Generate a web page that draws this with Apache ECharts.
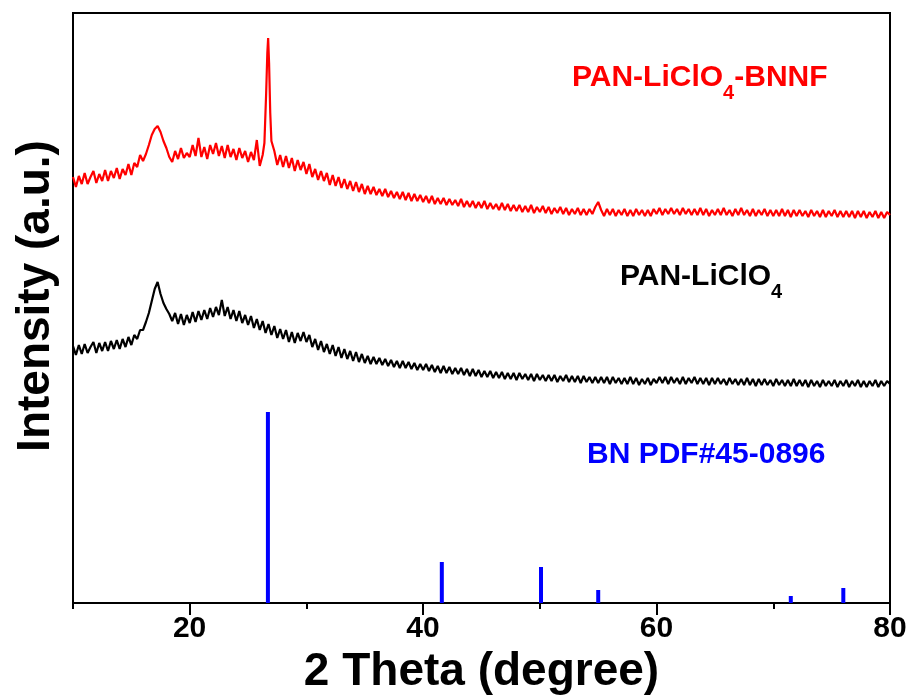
<!DOCTYPE html>
<html>
<head>
<meta charset="utf-8">
<script src="https://cdn.jsdelivr.net/npm/echarts@6/dist/echarts.min.js"></script>
<style>
html,body{margin:0;padding:0;background:#fff;}
#chart{width:911px;height:700px;}
</style>
</head>
<body>
<div id="chart"></div>
<script>
// 2θ (degree) vs intensity (a.u.)
const redBNNF = [
[10,426],[10.25,416],[10.5,427],[10.75,419],[11,430],[11.25,419],[11.5,426],[11.75,432],[12,420],[12.25,429],[12.5,422],[12.75,433],[13,422],[13.25,432],[13.5,425],[13.75,435],[14,424],[14.25,434],[14.5,428],[14.75,439],[15,428],[15.25,440],[15.5,436],[15.75,448],[16,442],[16.25,449],[16.5,458],[16.75,468],[17,474],[17.25,477],[17.5,471],[17.75,462],[18,455],[18.25,446],[18.5,441],[18.75,452],[19,444],[19.25,455],[19.5,445],[19.75,450],
[20,446],[20.25,458],[20.5,447],[20.75,465],[21,446],[21.25,456],[21.5,444],[21.75,458],[22,449],[22.25,460],[22.5,447],[22.75,457],[23,445],[23.25,458],[23.5,446],[23.75,454],[24,443],[24.25,455],[24.5,445],[24.75,452],[25,441],[25.25,451],[25.5,443],[25.75,463],[26,437],[26.25,448],[26.4,460],[26.55,510],[26.65,550],[26.72,565],[26.8,540],[26.9,490],[27,462],[27.25,452],[27.5,438],[27.75,448],[28,436],[28.25,447],[28.5,435],[28.75,445],[29,432],[29.25,443],[29.5,433],[29.75,441],
[30,429],[30.25,439],[30.5,426],[30.75,434],[31,423],[31.25,432],[31.5,422],[31.75,430],[32,418],[32.25,428],[32.5,417],[32.75,426],[33,415],[33.25,424],[33.5,414],[33.75,422],[34,412],[34.25,421],[34.5,411],[34.75,419],[35,409],[35.25,417],[35.5,409],[35.75,416],[36,408],[36.25,414],[36.5,407],[36.75,414],[37,406],[37.25,412],[37.5,405],[37.75,411],[38,404],[38.25,411],[38.5,403],[38.75,410],[39,402],[39.25,409],[39.5,402],[39.75,408],
[40,401],[40.25,407],[40.5,400],[40.75,407],[41,399],[41.25,405],[41.5,399],[41.75,405],[42,398],[42.25,404],[42.5,398],[42.75,403],[43,397],[43.25,404],[43.5,396],[43.75,402],[44,396],[44.25,402],[44.5,395],[44.75,401],[45,395],[45.25,402],[45.5,394],[45.75,400],[46,394],[46.25,399],[46.5,393],[46.75,400],[47,393],[47.25,399],[47.5,392],[47.75,398],[48,392],[48.25,398],[48.5,391],[48.75,397],[49,391],[49.25,398],[49.5,390],[49.75,396],
[50,391],[50.25,397],[50.5,390],[50.75,396],[51,389],[51.25,395],[51.5,390],[51.75,396],[52,389],[52.25,395],[52.5,388],[52.75,394],[53,389],[53.25,395],[53.5,388],[53.75,394],[54,388],[54.25,394],[54.5,389],[54.75,396],[55,401],[55.25,393],[55.5,387],[55.75,394],[56,388],[56.25,394],[56.5,387],[56.75,393],[57,388],[57.25,394],[57.5,387],[57.75,393],[58,387],[58.25,394],[58.5,388],[58.75,393],[59,387],[59.25,393],[59.5,387],[59.75,394],
[60,389],[60.25,395],[60.5,388],[60.75,394],[61,389],[61.25,395],[61.5,389],[61.75,394],[62,388],[62.25,395],[62.5,389],[62.75,394],[63,388],[63.25,394],[63.5,388],[63.75,395],[64,388],[64.25,394],[64.5,387],[64.75,393],[65,388],[65.25,394],[65.5,388],[65.75,395],[66,388],[66.25,393],[66.5,387],[66.75,394],[67,388],[67.25,395],[67.5,388],[67.75,393],[68,387],[68.25,394],[68.5,387],[68.75,393],[69,388],[69.25,394],[69.5,387],[69.75,393],
[70,387],[70.25,393],[70.5,387],[70.75,394],[71,387],[71.25,393],[71.5,386],[71.75,393],[72,387],[72.25,393],[72.5,387],[72.75,392],[73,386],[73.25,393],[73.5,387],[73.75,392],[74,386],[74.25,393],[74.5,386],[74.75,392],[75,387],[75.25,393],[75.5,386],[75.75,392],[76,386],[76.25,392],[76.5,386],[76.75,392],[77,385],[77.25,392],[77.5,386],[77.75,392],[78,385],[78.25,391],[78.5,386],[78.75,392],[79,385],[79.25,391],[79.5,385],[79.75,391],[80,388]];

const blackPAN = [
[10,257],[10.25,248],[10.5,258],[10.75,249],[11,259],[11.25,250],[11.5,256],[11.75,261],[12,250],[12.25,260],[12.5,252],[12.75,261],[13,252],[13.25,262],[13.5,254],[13.75,263],[14,254],[14.25,264],[14.5,256],[14.75,266],[15,258],[15.25,268],[15.5,264],[15.75,273],[16,273],[16.25,281],[16.5,290],[16.75,302],[17,314],[17.25,321],[17.5,309],[17.75,300],[18,294],[18.25,289],[18.5,282],[18.75,290],[19,279],[19.25,289],[19.5,278],[19.75,288],
[20,280],[20.25,291],[20.5,281],[20.75,292],[21,283],[21.25,293],[21.5,284],[21.75,295],[22,286],[22.25,296],[22.5,288],[22.75,303],[23,287],[23.25,296],[23.5,284],[23.75,293],[24,282],[24.25,292],[24.5,280],[24.75,288],[25,278],[25.25,287],[25.5,275],[25.75,284],[26,273],[26.25,282],[26.5,270],[26.75,279],[27,268],[27.25,277],[27.5,265],[27.75,274],[28,264],[28.25,273],[28.5,261],[28.75,271],[29,260],[29.25,270],[29.5,262],[29.75,271],
[30,261],[30.25,268],[30.5,256],[30.75,264],[31,253],[31.25,262],[31.5,251],[31.75,259],[32,249],[32.25,258],[32.5,247],[32.75,256],[33,245],[33.25,254],[33.5,244],[33.75,252],[34,242],[34.25,251],[34.5,241],[34.75,249],[35,240],[35.25,247],[35.5,239],[35.75,246],[36,239],[36.25,245],[36.5,238],[36.75,244],[37,237],[37.25,243],[37.5,236],[37.75,242],[38,235],[38.25,242],[38.5,235],[38.75,241],[39,234],[39.25,240],[39.5,233],[39.75,239],
[40,233],[40.25,239],[40.5,232],[40.75,238],[41,231],[41.25,237],[41.5,230],[41.75,237],[42,230],[42.25,236],[42.5,229],[42.75,235],[43,229],[43.25,235],[43.5,228],[43.75,234],[44,227],[44.25,234],[44.5,227],[44.75,233],[45,226],[45.25,232],[45.5,226],[45.75,232],[46,225],[46.25,231],[46.5,225],[46.75,231],[47,224],[47.25,230],[47.5,224],[47.75,230],[48,223],[48.25,230],[48.5,224],[48.75,229],[49,223],[49.25,229],[49.5,222],[49.75,229],
[50,223],[50.25,228],[50.5,222],[50.75,228],[51,222],[51.25,228],[51.5,221],[51.75,227],[52,222],[52.25,228],[52.5,221],[52.75,227],[53,221],[53.25,227],[53.5,220],[53.75,227],[54,221],[54.25,226],[54.5,220],[54.75,226],[55,220],[55.25,226],[55.5,220],[55.75,226],[56,219],[56.25,226],[56.5,220],[56.75,225],[57,219],[57.25,225],[57.5,219],[57.75,226],[58,219],[58.25,225],[58.5,218],[58.75,224],[59,219],[59.25,225],[59.5,218],[59.75,224],
[60,220],[60.25,226],[60.5,220],[60.75,226],[61,219],[61.25,226],[61.5,220],[61.75,225],[62,219],[62.25,226],[62.5,219],[62.75,225],[63,220],[63.25,226],[63.5,219],[63.75,225],[64,219],[64.25,225],[64.5,218],[64.75,225],[65,219],[65.25,225],[65.5,219],[65.75,224],[66,218],[66.25,225],[66.5,219],[66.75,224],[67,218],[67.25,224],[67.5,218],[67.75,225],[68,218],[68.25,224],[68.5,217],[68.75,224],[69,218],[69.25,224],[69.5,218],[69.75,223],
[70,217],[70.25,224],[70.5,218],[70.75,223],[71,217],[71.25,223],[71.5,217],[71.75,224],[72,217],[72.25,223],[72.5,217],[72.75,223],[73,216],[73.25,223],[73.5,217],[73.75,222],[74,216],[74.25,223],[74.5,217],[74.75,222],[75,217],[75.25,223],[75.5,216],[75.75,222],[76,217],[76.25,223],[76.5,216],[76.75,222],[77,217],[77.25,223],[77.5,216],[77.75,222],[78,216],[78.25,222],[78.5,217],[78.75,223],[79,216],[79.25,222],[79.5,217],[79.75,222],[80,219]];

const bnPositions = [26.7, 41.6, 50.1, 55.0, 71.5, 76.0];
const bnHeights = [191, 41, 36, 13, 7, 15];

const xLabels = [20, 40, 60, 80];

const chart = echarts.init(document.getElementById('chart'));
const FONT = '"Liberation Sans", Arial, sans-serif';

const richStyle = function(color){
  return {
    a: {fontSize: 30, fontWeight: 'bold', fontFamily: FONT, fill: color, lineHeight: 52},
    s: {fontSize: 20, fontWeight: 'bold', fontFamily: FONT, fill: color, lineHeight: 20, verticalAlign: 'bottom'}
  };
};

const option = {
  animation: false,
  backgroundColor: '#fff',
  grid: [
    {left: 73, right: 21, top: 13, bottom: 97, show: true, borderColor: '#000', borderWidth: 2, backgroundColor: 'transparent'},
    {left: 73 + 816 / 7, right: 21, top: 13, bottom: 97, show: false}
  ],
  xAxis: [
    {
      type: 'value', gridIndex: 0, min: 10, max: 80, interval: 10,
      axisLine: {show: true, lineStyle: {color: '#000', width: 2}},
      axisTick: {show: true, length: 6, lineStyle: {color: '#000', width: 2}},
      axisLabel: {show: false},
      splitLine: {show: false},
      name: '2 Theta (degree)', nameLocation: 'middle', nameGap: 46,
      nameTextStyle: {fontSize: 46, fontWeight: 'bold', fontFamily: FONT, color: '#000'}
    },
    {
      type: 'value', gridIndex: 1, min: xLabels[0], max: xLabels[xLabels.length - 1], interval: xLabels[1] - xLabels[0],
      axisLine: {show: false},
      axisTick: {show: true, length: 12, lineStyle: {color: '#000', width: 2}},
      axisLabel: {show: true, margin: 11, fontSize: 30, fontWeight: 'bold', fontFamily: FONT, color: '#000'},
      splitLine: {show: false}
    }
  ],
  yAxis: [
    {type: 'value', gridIndex: 0, min: 0, max: 590, show: false},
    {type: 'value', gridIndex: 1, min: 0, max: 590, show: false}
  ],
  graphic: [
    {type: 'text', left: 572, top: 62.5, style: {text: '{a|PAN-LiClO}{s|4}{a|-BNNF}', rich: richStyle('#ff0000')}},
    {type: 'text', left: 620, top: 261.5, style: {text: '{a|PAN-LiClO}{s|4}', rich: richStyle('#000000')}},
    {type: 'text', left: 587, top: 439.5, style: {text: '{a|BN PDF#45-0896}', rich: richStyle('#0000ff')}},
    {type: 'text', x: 36, y: 296, rotation: Math.PI / 2,
      style: {text: 'Intensity (a.u.)', fontSize: 46, fontWeight: 'bold', fontFamily: FONT, fill: '#000', align: 'center', verticalAlign: 'middle'}}
  ],
  series: [
    {type: 'line', xAxisIndex: 0, yAxisIndex: 0, data: redBNNF, showSymbol: false, symbol: 'none',
      lineStyle: {color: '#ff0000', width: 2.2}, itemStyle: {color: '#ff0000'}},
    {type: 'line', xAxisIndex: 0, yAxisIndex: 0, data: blackPAN, showSymbol: false, symbol: 'none',
      lineStyle: {color: '#000000', width: 2.2}, itemStyle: {color: '#000000'}},
    {type: 'bar', xAxisIndex: 0, yAxisIndex: 0, barWidth: 4,
      data: bnPositions.map(function(p, i){ return [p, bnHeights[i]]; }),
      itemStyle: {color: '#0000ff'}}
  ]
};
chart.setOption(option);
</script>
</body>
</html>
